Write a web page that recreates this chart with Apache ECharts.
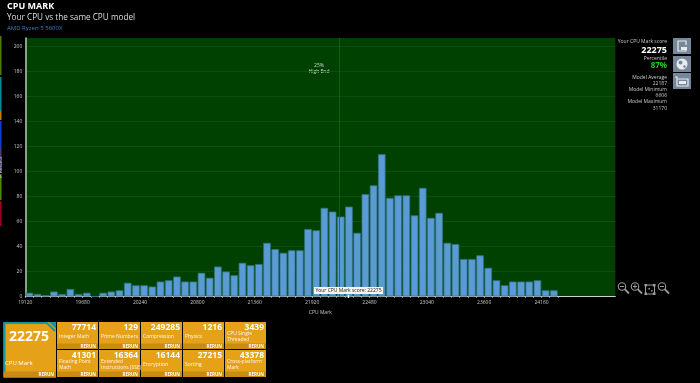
<!DOCTYPE html>
<html>
<head>
<meta charset="utf-8">
<style>
  html, body { margin: 0; padding: 0; background: #000; }
  #chart { width: 700px; height: 383px; }
</style>
<script src="https://cdn.jsdelivr.net/npm/echarts@6/dist/echarts.min.js"></script>
</head>
<body>
<div id="chart"></div>
<script>
// histogram bins, one per 80 points, starting at 19120
var binStart = 19120
var binSize = 80
var binCount = 72
var results = [3, 2, 1, 4, 2, 6, 2, 3, 0, 3, 4, 5, 11, 9, 9, 8, 12, 13, 16, 12, 12, 19, 15, 24, 20, 17, 27, 25, 26, 43, 38, 35, 37, 37, 54, 53, 71, 68, 64, 72, 51, 82, 89, 114, 79, 81, 81, 65, 87, 63, 67, 43, 42, 30, 30, 33, 23, 13, 9, 12, 12, 12, 13, 5, 5]
var yourScore = 22275
var modelAverage = 22187

var tileNames = ['Integer Math', 'Prime Numbers', 'Compression', 'Physics', 'CPU Single\nThreaded', 'Floating Point\nMath', 'Extended\nInstructions (SSE)', 'Encryption', 'Sorting', 'Cross-platform\nMark']
var tileValues = [77714, 129, 249285, 1216, 3439, 41301, 16364, 16144, 27215, 43378]
var sideLabels = ['Your CPU Mark score', 'Percentile', 'Model Average', 'Model Minimum', 'Model Maximum']
var sideValues = ['22275', '87%', '22187', '6606', '31170']

var fontName = '"Open Sans", sans-serif'
var chart = echarts.init(document.getElementById('chart'))

function binPos(score) {
  return (score - binStart) / binSize
}

function text(x, y, str, size, color, extra) {
  return {
    type: 'text',
    x: x,
    y: y,
    silent: true,
    style: Object.assign({ text: str, fontSize: size, fill: color, fontFamily: fontName }, extra || {})
  }
}

function rect(x, y, w, h, color) {
  return { type: 'rect', silent: true, shape: { x: x, y: y, width: w, height: h }, style: { fill: color } }
}

function buildHeader() {
  return [
    text(7, 2, 'CPU MARK', 9, '#fff', { fontWeight: 'bold' }),
    text(7, 14, 'Your CPU vs the same CPU model', 8.2, '#ddd'),
    text(7, 25.5, 'AMD Ryzen 5 5600X', 6, '#3b7fc4'),
    text(319, 63, '25%', 5, '#cfdccf', { align: 'center' }),
    text(319, 69, 'High End', 5, '#cfdccf', { align: 'center' })
  ]
}

// coloured strip down the left window edge
function buildStrip() {
  return [
    rect(0, 36, 1.5, 39, '#4d7a0a'),
    rect(0, 77, 1.5, 34, '#008c9e'),
    rect(0, 111, 1.5, 9, '#c47a00'),
    rect(0, 121, 1.5, 26, '#0a3fd0'),
    rect(0, 147, 1.5, 26, '#4a3a78'),
    rect(0, 174, 1.5, 26, '#4d8a10'),
    rect(0, 201, 1.5, 25, '#a00025')
  ]
}

function buildSide() {
  var c = '#c8c8c8'
  var mid = { align: 'right', verticalAlign: 'middle' }
  var bold = { align: 'right', verticalAlign: 'middle', fontWeight: 'bold' }
  return [
    text(667, 41.5, sideLabels[0], 5, c, mid),
    text(667, 50, sideValues[0], 9, '#fff', bold),
    text(667, 58.5, sideLabels[1], 5, c, mid),
    text(667, 65.5, sideValues[1], 8, '#1fd01f', bold),
    text(667, 77.5, sideLabels[2], 5, c, mid),
    text(667, 83.5, sideValues[2], 5, c, mid),
    text(667, 89.5, sideLabels[3], 5, c, mid),
    text(667, 96, sideValues[3], 5, c, mid),
    text(667, 102, sideLabels[4], 5, c, mid),
    text(667, 108.5, sideValues[4], 5, c, mid)
  ]
}

function buildButtons() {
  var bg = '#76879a'
  var fg = '#e8ecf0'
  return [
    rect(673, 38, 18, 16, bg),
    rect(673, 56, 18, 16, bg),
    rect(673, 73, 18, 16, bg),
    // report page
    { type: 'polyline', silent: true, shape: { points: [[686, 45], [686, 41], [683, 41], [678, 41], [678, 51], [686, 51], [686, 48]] }, style: { stroke: fg, lineWidth: 1.2, fill: null } },
    rect(681, 47, 6, 3, fg),
    // globe
    { type: 'circle', silent: true, shape: { cx: 682, cy: 64, r: 5.5 }, style: { fill: fg } },
    { type: 'circle', silent: true, shape: { cx: 680.5, cy: 62.5, r: 2 }, style: { fill: bg } },
    { type: 'circle', silent: true, shape: { cx: 684.5, cy: 66.5, r: 1.3 }, style: { fill: bg } },
    // card
    { type: 'polyline', silent: true, shape: { points: [[675, 77], [677, 77], [677, 86], [688, 86], [688, 79], [678, 79]] }, style: { stroke: fg, lineWidth: 1.2, fill: null } },
    rect(679, 81, 7, 3, fg)
  ]
}

function magnifier(cx, cy, mark) {
  var col = '#9c9c9c'
  var out = [
    { type: 'circle', silent: true, shape: { cx: cx, cy: cy, r: 3.7 }, style: { fill: null, stroke: col, lineWidth: 1.1 } },
    { type: 'line', silent: true, shape: { x1: cx + 2.7, y1: cy + 2.7, x2: cx + 7, y2: cy + 7 }, style: { stroke: col, lineWidth: 1.8 } },
    { type: 'line', silent: true, shape: { x1: cx - 2, y1: cy, x2: cx + 2, y2: cy }, style: { stroke: col, lineWidth: 1 } }
  ]
  if (mark) {
    out.push({ type: 'line', silent: true, shape: { x1: cx, y1: cy - 2, x2: cx, y2: cy + 2 }, style: { stroke: col, lineWidth: 1 } })
  }
  return out
}

function buildZoomIcons() {
  var col = '#9c9c9c'
  return [].concat(
    magnifier(622, 286.5, false),
    magnifier(635, 286.5, true),
    [
      { type: 'rect', silent: true, shape: { x: 645.5, y: 285, width: 9, height: 9 }, style: { fill: null, stroke: col, lineWidth: 1 } },
      rect(644.5, 284, 2.5, 2.5, col), rect(653, 284, 2.5, 2.5, col), rect(644.5, 292.5, 2.5, 2.5, col), rect(653, 292.5, 2.5, 2.5, col),
      rect(648.5, 288, 1.5, 1.5, col), rect(651, 290, 1.5, 1.5, col)
    ],
    magnifier(662, 286.5, false)
  )
}

function buildTiles() {
  var orange = '#e5a117'
  var band = '#c98c13'
  var out = []
  // main tile
  out.push({
    type: 'polygon', silent: true,
    shape: { points: [[3.5, 322], [56, 322], [56, 377.5], [3.5, 377.5]] },
    style: { fill: orange }
  })
  out.push({
    type: 'polyline', silent: true,
    shape: { points: [[55, 331], [47, 323], [4.5, 323], [4.5, 372]] },
    style: { stroke: '#0e9aa0', lineWidth: 2, fill: null }
  })
  out.push({
    type: 'polygon', silent: true,
    shape: { points: [[49, 322], [56, 322], [56, 329]] },
    style: { fill: '#0e9aa0' }
  })
  out.push(rect(3.5, 371.5, 52.5, 6, band))
  out.push(text(29, 337, '22275', 14, '#fff', { align: 'center', verticalAlign: 'middle', fontWeight: 'bold' }))
  out.push(text(5, 360.5, 'CPU Mark', 6, '#fff'))
  out.push(text(54, 374.5, 'RERUN', 4.5, '#fff', { align: 'right', verticalAlign: 'middle', fontWeight: 'bold' }))

  var colX = [57, 99, 141, 183, 225]
  var rowY = [322, 350]
  var w = 41
  var h = 27
  tileValues.forEach(function (val, i) {
    var x = colX[i % 5]
    var y = rowY[Math.floor(i / 5)]
    var twoLines = tileNames[i].indexOf('\n') >= 0
    out.push(rect(x, y, w, h, orange))
    out.push(rect(x, y + h - 5.5, w, 5.5, band))
    out.push(text(x + w - 2, y + 6, String(val), 8.5, '#fff', { align: 'right', verticalAlign: 'middle', fontWeight: 'bold' }))
    out.push(text(x + 2, y + (twoLines ? 9 : 12), tileNames[i], 5, '#fff', { lineHeight: 5.5, opacity: 0.92 }))
    out.push(text(x + w - 2, y + h - 2.7, 'RERUN', 4.5, '#fff', { align: 'right', verticalAlign: 'middle', fontWeight: 'bold' }))
  })
  return out
}

var barData = results.map(function (v, i) {
  return [i + 0.5, v]
})
var edgeTicks = results.map(function (v, i) {
  return i
}).concat(results.length)
var labelTicks = edgeTicks.filter(function (v) {
  return v % 7 === 0
})

chart.setOption({
  backgroundColor: '#000',
  animation: false,
  textStyle: { fontFamily: fontName },
  grid: { left: 25.3, top: 38, width: 590, height: 258.5, backgroundColor: '#004000', show: true, borderWidth: 0, outerBoundsMode: 'none' },
  xAxis: {
    type: 'value',
    min: 0,
    max: binCount,
    name: 'CPU Mark',
    nameLocation: 'middle',
    nameGap: 13,
    nameTextStyle: { color: '#c8c8c8', fontSize: 5, padding: [0, 0, 0, 0] },
    axisLine: { show: true, lineStyle: { color: '#d0d0d0', width: 1 } },
    axisTick: { show: true, customValues: edgeTicks, length: 1.5, lineStyle: { color: '#b0b0b0', width: 0.7 } },
    splitLine: { show: false },
    axisLabel: {
      color: '#c8c8c8',
      fontSize: 5,
      margin: 4,
      customValues: labelTicks,
      formatter: function (v) {
        return String(binStart + v * binSize)
      }
    }
  },
  yAxis: {
    type: 'value',
    min: 0,
    max: 207,
    interval: 20,
    name: '# Results',
    nameLocation: 'middle',
    nameRotate: 90,
    nameGap: 14,
    nameTextStyle: { color: '#c8c8c8', fontSize: 5 },
    axisLine: { show: true, lineStyle: { color: '#c0c0c0', width: 1.5 } },
    axisTick: { show: false },
    axisLabel: { color: '#c8c8c8', fontSize: 5, margin: 3, showMaxLabel: false },
    splitLine: { show: true, showMaxLine: false, lineStyle: { color: '#155015', width: 0.8 } }
  },
  series: [{
    type: 'bar',
    data: barData,
    barWidth: 7.6,
    itemStyle: { color: '#5b9bd5', borderColor: '#2f7480', borderWidth: 0.8 },
    markLine: {
      silent: true,
      symbol: 'none',
      label: { show: false },
      lineStyle: { color: '#3c5410', width: 0.8, type: 'solid' },
      data: [{ xAxis: binPos(modelAverage) }]
    },
    markPoint: {
      silent: true,
      symbol: 'rect',
      symbolSize: [1.5, 3],
      itemStyle: { color: '#fff' },
      label: {
        show: true,
        position: 'top',
        distance: 1,
        formatter: 'Your CPU Mark score: ' + yourScore,
        color: '#222',
        fontSize: 5,
        backgroundColor: '#f4f4f4',
        padding: [1, 1.5]
      },
      data: [{ coord: [binPos(yourScore), 0] }]
    }
  }],
  graphic: { elements: [].concat(buildHeader(), buildStrip(), buildSide(), buildButtons(), buildZoomIcons(), buildTiles()) }
})
</script>
</body>
</html>
